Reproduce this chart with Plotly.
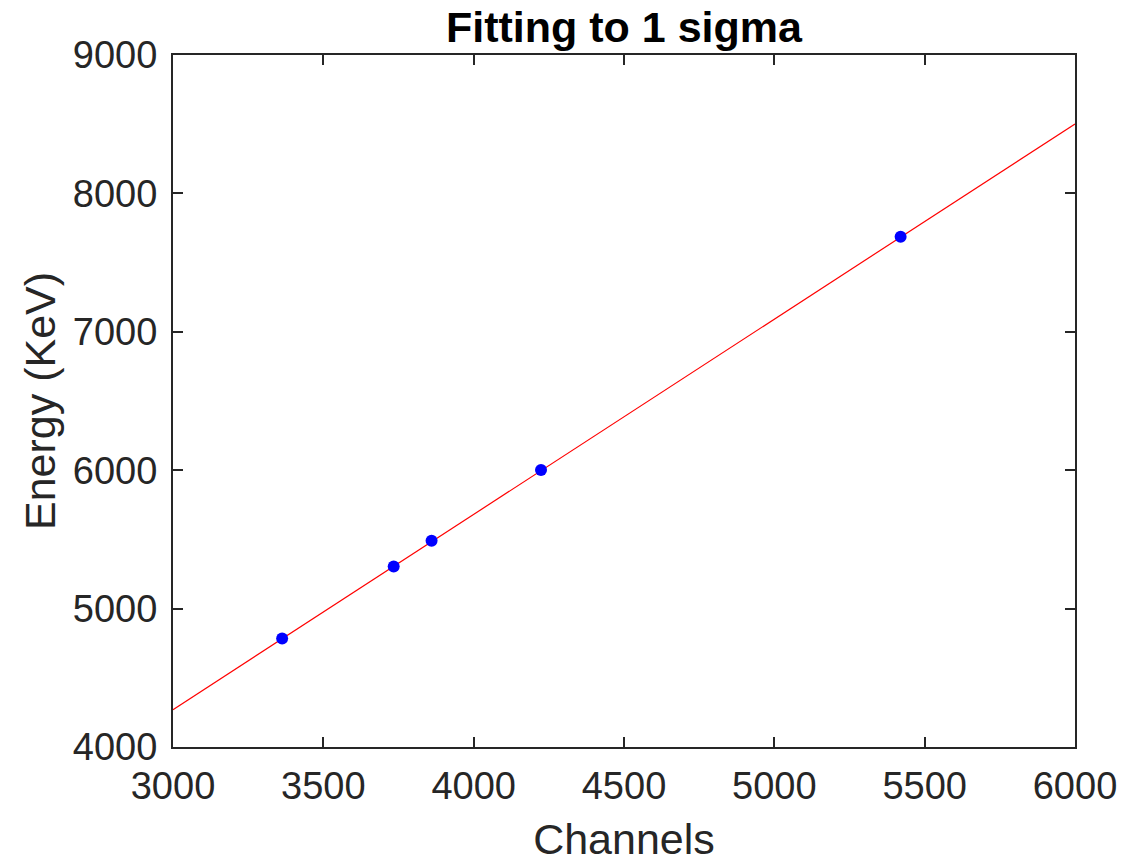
import plotly.graph_objects as go

# Calibration points (channel, alpha energy in keV)
channels = [3363, 3734, 3860, 4224, 5420]
energies = [4784, 5304, 5490, 6002, 7687]

# Fit line endpoints
fit_channels = [3000, 6000]
fit_energies = [4270, 8502]

x_ticks = [3000, 3500, 4000, 4500, 5000, 5500, 6000]
y_ticks = [4000, 5000, 6000, 7000, 8000, 9000]

axis_color = "#262626"
font_family = "Liberation Sans, Arial, Helvetica, sans-serif"

fig = go.Figure()
fig.add_trace(go.Scatter(x=fit_channels, y=fit_energies, mode="lines",
                         line=dict(color="#ff0000", width=1.2), showlegend=False))
fig.add_trace(go.Scatter(x=channels, y=energies, mode="markers",
                         marker=dict(color="#0000ff", size=12, line=dict(width=0)),
                         showlegend=False))

axis_common = dict(
    showline=True, linecolor=axis_color, linewidth=2, mirror="ticks",
    ticks="inside", ticklen=10, tickwidth=2, tickcolor=axis_color,
    showgrid=False, zeroline=False, automargin=False,
    tickfont=dict(family=font_family, size=38, color=axis_color),
)

W, H = 1133, 855  # page body has an 8px margin
fig.update_layout(
    width=W, height=H,
    margin=dict(l=165, r=66, t=47, b=116),
    paper_bgcolor="white", plot_bgcolor="white",
    title=dict(text="<b>Fitting to 1 sigma</b>", x=(165 + 1067) / 2 / W, xanchor="center",
               y=1 - 19 / H, yanchor="middle", yref="container",
               font=dict(family=font_family, size=43, color="black")),
    xaxis=dict(range=[3000, 6000], tickvals=x_ticks, ticklabelstandoff=4,
               title=dict(text="Channels", standoff=18,
                          font=dict(family=font_family, size=43, color=axis_color)),
               **axis_common),
    yaxis=dict(range=[4000, 9000], tickvals=y_ticks, ticklabelstandoff=6,
               title=dict(text="Energy (KeV)", standoff=4,
                          font=dict(family=font_family, size=43, color=axis_color)),
               **axis_common),
)

fig.write_html("out.html")
